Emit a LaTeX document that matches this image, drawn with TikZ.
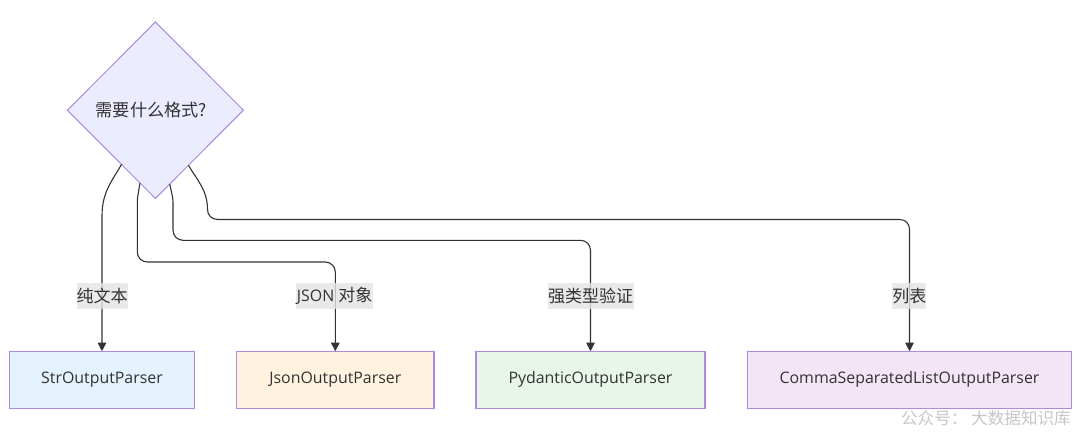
\documentclass[tikz,border=0pt]{standalone}
\usepackage{fontspec}
\usetikzlibrary{shapes.geometric,arrows.meta}
\setmainfont{Open Sans}
\newfontfamily\cjkf{Noto Sans CJK SC}
\newcommand{\zh}[1]{{\cjkf\fontsize{17}{20}\selectfont #1}}
\definecolor{ink}{HTML}{333333}
\definecolor{stroke}{HTML}{A98BE3}
\definecolor{diafill}{HTML}{ECECFF}
\definecolor{labfill}{HTML}{E4E4E4}
\tikzset{
  base/.style={font=\fontsize{15.9}{18}\selectfont,text=ink,inner sep=0pt,outer sep=0pt},
  decis/.style={base,diamond,draw=stroke,fill=diafill,line width=1pt,minimum width=176pt,minimum height=176.5pt,font=\cjkf\fontsize{17.2}{20}\selectfont},
  parser/.style={base,rectangle,draw=stroke,line width=1.3pt,minimum height=57pt},
  edgelab/.style={base,rectangle,fill=labfill,fill opacity=0.8,text opacity=1,minimum height=25.7pt},
  link/.style={draw=ink,line width=1.1pt,rounded corners=10pt,-{Triangle[length=8.5pt,width=8.5pt]}},
}
\begin{document}
\begin{tikzpicture}[x=1pt,y=-1pt]
\path[use as bounding box,fill=white] (0,0) rectangle (1080,434);
\node[decis] (dec) at (155.4,110.2) {需要什么格式?\kern8pt};
\node[parser,fill={rgb,255:red,227;green,242;blue,253},minimum width=185pt] (strp) at (102,379.7) {StrOutputParser};
\node[parser,fill={rgb,255:red,255;green,243;blue,224},minimum width=197.4pt] (jsonp) at (335.3,379.7) {JsonOutputParser};
\node[parser,fill={rgb,255:red,232;green,245;blue,233},minimum width=229pt] (pyd) at (590.5,379.7) {PydanticOutputParser};
\node[parser,fill={rgb,255:red,243;green,229;blue,245},minimum width=324.4pt] (comma) at (909.5,379.7) {CommaSeparatedListOutputParser};
\draw[link,rounded corners=0pt] (dec.238.8) .. controls (112,181) and (102,192) .. (102,216) -- (strp.north);
\draw[link] (dec.258.3) .. controls (138.5,192) and (137.3,198) .. (137.3,212) -- (137.3,262) -- (335.3,262) -- (jsonp.north);
\draw[link] (dec.281.3) .. controls (171.5,192) and (173,198) .. (173,212) -- (173,240.3) -- (590.5,240.3) -- (pyd.north);
\draw[link,rounded corners=0pt] (dec.301) .. controls (197,180) and (207.5,190) .. (207.5,209.5) .. controls (207.5,215.5) and (212,219.5) .. (218,219.5) -- (899.5,219.5) .. controls (905.5,219.5) and (909.5,223.5) .. (909.5,229.5) -- (comma.north);
\node[edgelab,minimum width=51pt] (l1) at (102.2,296) {\zh{纯文本}};
\node[edgelab,minimum width=77pt] (l2) at (334.7,296) {JSON \zh{对象}};
\node[edgelab,minimum width=86pt] (l3) at (590.5,296) {\zh{强类型验证}};
\node[edgelab,minimum width=34pt] (l4) at (909.3,296) {\zh{列表}};
\node[inner sep=0pt,anchor=east,text=black!22,font=\cjkf\fontsize{16.6}{20}\selectfont] (wm) at (1071,418) {公众号： 大数据知识库};
\end{tikzpicture}
\end{document}
